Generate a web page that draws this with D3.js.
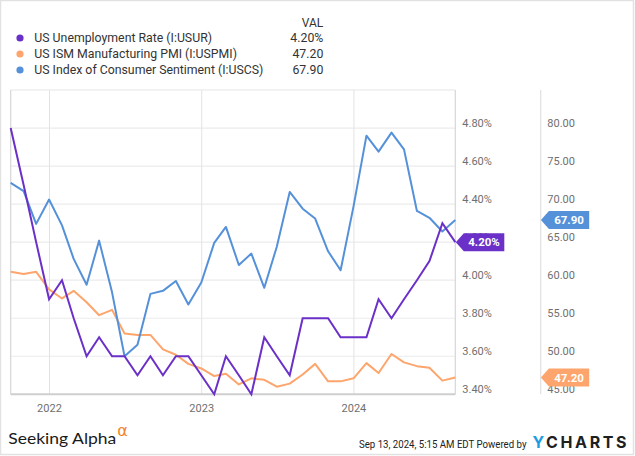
<!DOCTYPE html>
<html>
<head>
<meta charset="utf-8">
<script src="https://cdn.jsdelivr.net/npm/d3@7"></script>
<style>
  html, body { margin: 0; padding: 0; background: #fff; }
  svg { display: block; font-family: Roboto, "Noto Sans", sans-serif; }
</style>
</head>
<body>
<svg id="chart" width="635" height="456"></svg>
<script>
// ---- data (monthly, Sep 2021 .. Aug 2024) ----
const startYear = 2021, startMonth = 8; // September 2021 (0-based month)
const unemployment = [4.8,4.5,4.2,3.9,
  4.0,3.8,3.6,3.7,3.6,3.6,3.5,3.6,3.5,3.6,3.6,3.5,
  3.4,3.6,3.5,3.4,3.7,3.6,3.5,3.8,3.8,3.8,3.7,3.7,
  3.7,3.9,3.8,3.9,4.0,4.1,4.3,4.2];
const ismPmi = [61.1,60.8,61.1,58.8,
  57.6,58.6,57.1,55.4,56.1,53.0,52.8,52.8,50.9,50.2,49.0,48.4,
  47.4,47.7,46.3,47.1,46.9,46.0,46.4,47.6,49.0,46.7,46.7,47.1,
  49.1,47.8,50.3,49.2,48.7,48.5,46.8,47.2];
const sentiment = [72.8,71.7,67.4,70.6,
  67.2,62.8,59.4,65.2,58.4,50.0,51.5,58.2,58.6,59.9,56.8,59.7,
  64.9,67.0,62.0,63.5,59.0,64.4,71.6,69.4,68.1,63.8,61.3,69.7,
  79.0,76.9,79.4,77.2,69.1,68.2,66.4,67.9];
const seriesNames = ["US Unemployment Rate (I:USUR)", "US ISM Manufacturing PMI (I:USPMI)", "US Index of Consumer Sentiment (I:USCS)"];
const seriesLast = ["4.20%", "47.20", "67.90"];
const leftTicks = [3.4,3.6,3.8,4.0,4.2,4.4,4.6,4.8];
const rightTicks = [45,50,55,60,65,70,75,80];
const yearTicks = [2022, 2023, 2024];

const colors = { purple: "#6a30c8", orange: "#fda56c", blue: "#5591d9" };

// month-end dates
const dates = unemployment.map((_, i) => new Date(startYear, startMonth + i + 1, 0));

const svg = d3.select("#chart");

// outer frame
svg.append("rect").attr("x", 0.5).attr("y", 0.5).attr("width", 633).attr("height", 454)
  .attr("fill", "#fff").attr("stroke", "#e2e2e2").attr("stroke-width", 1.5);

const plot = { left: 10.7, right: 455.3, top: 90, bottom: 394.3 };
const x = d3.scaleTime().domain([dates[0], dates[dates.length - 1]]).range([plot.left, plot.right]);
const yL = d3.scaleLinear().domain([3.4, 5.0]).range([plot.bottom, plot.top]);
const yR = d3.scaleLinear().domain([45, 85]).range([plot.bottom, plot.top]);

// horizontal gridlines
svg.append("g").selectAll("line").data(leftTicks).join("line")
  .attr("x1", plot.left).attr("x2", plot.right)
  .attr("y1", d => yL(d)).attr("y2", d => yL(d))
  .attr("stroke", "#ebebeb").attr("stroke-width", 1.2);

// vertical year gridlines
svg.append("g").selectAll("line").data(yearTicks).join("line")
  .attr("x1", d => x(new Date(d, 0, 1))).attr("x2", d => x(new Date(d, 0, 1)))
  .attr("y1", plot.top).attr("y2", plot.bottom)
  .attr("stroke", "#e3e3e3").attr("stroke-width", 1);

// plot border
svg.append("line").attr("x1", plot.left).attr("x2", plot.right).attr("y1", plot.top).attr("y2", plot.top)
  .attr("stroke", "#e6e6e6").attr("stroke-width", 1.2);
svg.append("line").attr("x1", plot.left).attr("x2", plot.left).attr("y1", plot.top).attr("y2", plot.bottom)
  .attr("stroke", "#d6d6d6").attr("stroke-width", 1.2);
svg.append("line").attr("x1", plot.right).attr("x2", plot.right).attr("y1", plot.top).attr("y2", plot.bottom)
  .attr("stroke", "#d6d6d6").attr("stroke-width", 1.2);
svg.append("line").attr("x1", 540.7).attr("x2", 540.7).attr("y1", plot.top).attr("y2", plot.bottom)
  .attr("stroke", "#e0e0e0").attr("stroke-width", 1.2);
svg.append("line").attr("x1", plot.left).attr("x2", plot.right).attr("y1", plot.bottom).attr("y2", plot.bottom)
  .attr("stroke", "#cfcfcf").attr("stroke-width", 2);

// x-axis labels
svg.append("g").selectAll("text").data(yearTicks).join("text")
  .attr("x", d => x(new Date(d, 0, 1))).attr("y", 412)
  .attr("text-anchor", "middle").attr("font-size", 11).attr("fill", "#6f6f6f")
  .text(d => d);

// left axis labels
svg.append("g").selectAll("text").data(leftTicks).join("text")
  .attr("x", 462.3).attr("y", d => yL(d) - 1.5)
  .attr("font-size", 11).attr("fill", "#6f6f6f")
  .text(d => d.toFixed(2) + "%");

// right axis labels
svg.append("g").selectAll("text").data(rightTicks).join("text")
  .attr("x", 547.3).attr("y", d => yR(d) - 1.5)
  .attr("font-size", 11).attr("fill", "#6f6f6f")
  .text(d => d.toFixed(2));

// lines
const lineL = d3.line().x((d, i) => x(dates[i])).y(d => yL(d));
const lineR = d3.line().x((d, i) => x(dates[i])).y(d => yR(d));
svg.append("path").datum(ismPmi).attr("d", lineR).attr("fill", "none")
  .attr("stroke", colors.orange).attr("stroke-width", 2).attr("stroke-linejoin", "round");
svg.append("path").datum(sentiment).attr("d", lineR).attr("fill", "none")
  .attr("stroke", colors.blue).attr("stroke-width", 2).attr("stroke-linejoin", "round");
svg.append("path").datum(unemployment).attr("d", lineL).attr("fill", "none")
  .attr("stroke", colors.purple).attr("stroke-width", 2).attr("stroke-linejoin", "miter");

// value tags
function tag(xTip, yc, w, color, label) {
  const h = 18, a = 8;
  const p = `M${xTip},${yc} L${xTip + a},${yc - h / 2} L${xTip + w},${yc - h / 2} L${xTip + w},${yc + h / 2} L${xTip + a},${yc + h / 2} Z`;
  svg.append("path").attr("d", p).attr("fill", color);
  svg.append("text").attr("x", xTip + a + (w - a) / 2).attr("y", yc + 4.3)
    .attr("text-anchor", "middle").attr("font-size", 11.5).attr("font-weight", "bold")
    .attr("fill", "#fff").text(label);
}
tag(455.8, yL(unemployment[unemployment.length - 1]), 48.5, colors.purple, seriesLast[0]);
tag(540.9, yR(sentiment[sentiment.length - 1]), 48.3, colors.blue, seriesLast[2]);
tag(540.9, yR(ismPmi[ismPmi.length - 1]), 48.3, colors.orange, seriesLast[1]);

// legend
const legColors = [colors.purple, colors.orange, colors.blue];
svg.append("text").attr("x", 323.3).attr("y", 27).attr("text-anchor", "end")
  .attr("font-size", 12).attr("fill", "#333").text("VAL");
const leg = svg.append("g").selectAll("g").data(seriesNames).join("g")
  .attr("transform", (d, i) => `translate(0,${38 + i * 16})`);
leg.append("circle").attr("cx", 20).attr("cy", 0).attr("r", 3.6).attr("fill", (d, i) => legColors[i]);
leg.append("text").attr("x", 34.3).attr("y", 4.3).attr("font-size", 12.3).attr("fill", "#333").text(d => d);
leg.append("text").attr("x", 323.3).attr("y", 4.3).attr("text-anchor", "end")
  .attr("font-size", 12.3).attr("fill", "#333").text((d, i) => seriesLast[i]);

// footer
svg.append("text").attr("x", 8.3).attr("y", 443.7).attr("font-family", "Lato, 'Open Sans', sans-serif")
  .attr("font-weight", 400).attr("font-size", 16).attr("fill", "#1a1a1a")
  .attr("textLength", 108).attr("lengthAdjust", "spacingAndGlyphs").text("Seeking Alpha");
svg.append("text").attr("x", 117.3).attr("y", 435.5).attr("font-family", "'DejaVu Sans', sans-serif")
  .attr("font-size", 16).attr("fill", "#f5822a").text("α");
svg.append("text").attr("x", 359).attr("y", 447.6).attr("font-size", 10.5).attr("fill", "#222")
  .attr("textLength", 167.5).attr("lengthAdjust", "spacingAndGlyphs")
  .text("Sep 13, 2024, 5:15 AM EDT Powered by");
const yc = svg.append("text").attr("x", 532.5).attr("y", 448.3).attr("font-family", "Inter, Roboto, sans-serif")
  .attr("font-weight", 700).attr("font-size", 16).attr("textLength", 94).attr("lengthAdjust", "spacing");
yc.append("tspan").attr("fill", "#1e9ce3").text("Y");
yc.append("tspan").attr("fill", "#1f1f1f").text("CHARTS");
</script>
</body>
</html>
